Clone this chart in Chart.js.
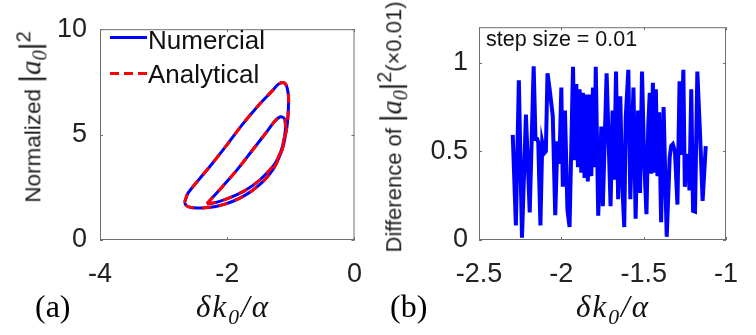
<!DOCTYPE html>
<html>
<head>
<meta charset="utf-8">
<script src="https://cdn.jsdelivr.net/npm/chart.js@4.4.1/dist/chart.umd.min.js"></script>
<style>
  html, body { margin: 0; padding: 0; background: #fff; }
  #wrap { position: relative; width: 756px; height: 335px; overflow: hidden;
          font-family: "Liberation Sans", Arial, sans-serif; color: #222; }
  canvas { position: absolute; top: 0; }
  #cA { left: 0; }
  #cB { left: 380px; }
  .ytitle { position: absolute; white-space: nowrap; line-height: 1; color: #222;
            transform: translate(-50%, -50%) rotate(-90deg); }
  .xtitle { position: absolute; white-space: nowrap; line-height: 1; transform: translateX(-50%);
            font-family: "Liberation Serif", "Times New Roman", serif; font-style: italic;
            font-size: 31px; letter-spacing: 2px; color: #111; }
  .m { font-family: "Liberation Serif", "Times New Roman", serif; font-style: italic; }
  .big { font-size: 1.3em; }
  .sub { font-size: .7em; position: relative; top: .3em; }
  .sup { font-size: .9em; position: relative; top: -.5em; }
  .panel { position: absolute; line-height: 1; font-family: "Liberation Serif", "Times New Roman", serif; font-size: 32px; color: #000; }
  .txt { position: absolute; line-height: 1; white-space: nowrap; color: #111; }
  .swatch { position: absolute; height: 3px; }
</style>
</head>
<body>
<div id="wrap">
  <canvas id="cA" width="380" height="335"></canvas>
  <canvas id="cB" width="376" height="335"></canvas>

  <!-- panel (a) legend -->
  <div class="swatch" style="left:110px; top:36px; width:37px; background:#0000ff;"></div>
  <div class="txt" style="left:148px; top:27px; font-size:26px;">Numercial</div>
  <div class="swatch" style="left:110px; top:72px; width:37px; background:repeating-linear-gradient(to right,#ff0000 0 9px,transparent 9px 14px);"></div>
  <div class="txt" style="left:148px; top:61px; font-size:26px;">Analytical</div>

  <!-- panel (b) annotation -->
  <div class="txt" style="left:486px; top:29px; font-size:21.5px;">step size = 0.01</div>

  <!-- axis titles -->
  <div class="ytitle" style="left:31px; top:117px; font-size:22.5px;">Normalized <span class="big">|<span class="m">a</span><span class="sub m">0</span>|</span><span class="sup">2</span></div>
  <div class="ytitle" style="left:392px; top:127px; font-size:22px;">Difference of <span class="big">|<span class="m">a</span><span class="sub m">0</span>|</span><span class="sup">2</span>(×0.01)</div>
  <div class="xtitle" style="left:233px; top:291px;">δk<span class="sub">0</span>/α</div>
  <div class="xtitle" style="left:613px; top:291px;">δk<span class="sub">0</span>/α</div>

  <div class="panel" style="left:35px; top:290px;">(a)</div>
  <div class="panel" style="left:390px; top:290px;">(b)</div>
</div>

<script>
// ===== Data =====
// panel (a): outer and inner loops (numerical and analytical curves coincide)
const outerLoopX = [-2.672, -2.621, -2.45, -2.27, -2.02, -1.77, -1.52, -1.30, -1.20, -1.12, -1.07, -1.04,
                    -1.035, -1.045, -1.06, -1.09, -1.12, -1.18, -1.25, -1.34, -1.44, -1.60, -1.75, -1.90,
                    -2.05, -2.20, -2.35, -2.48, -2.57, -2.64, -2.672];
const outerLoopY = [1.765, 2.2, 2.85, 3.5, 4.45, 5.45, 6.35, 7.05, 7.38, 7.47, 7.32, 6.9,
                    6.6, 5.9, 5.4, 4.9, 4.45, 3.95, 3.5, 3.1, 2.77, 2.36, 2.07, 1.85,
                    1.69, 1.58, 1.53, 1.52, 1.54, 1.62, 1.765];
const innerLoopX = [-2.32, -2.22, -2.07, -1.84, -1.62, -1.40, -1.25, -1.16, -1.10, -1.085, -1.095,
                    -1.135, -1.20, -1.28, -1.48, -1.70, -1.90, -2.12, -2.25, -2.32];
const innerLoopY = [1.72, 2.05, 2.55, 3.35, 4.2, 5.05, 5.65, 5.85, 5.75, 5.4, 5.0,
                    4.4, 3.9, 3.5, 2.87, 2.38, 2.08, 1.83, 1.74, 1.72];

// panel (b): difference, step size 0.01
const diffX = [-2.295, -2.276, -2.258, -2.239, -2.215, -2.192, -2.168, -2.157, -2.147, -2.140, -2.127,
               -2.116, -2.103, -2.094, -2.084, -2.071, -2.052, -2.037, -2.024, -2.012, -2.000, -1.991,
               -1.978, -1.963, -1.950, -1.929, -1.919, -1.909, -1.899, -1.889, -1.879, -1.869, -1.859,
               -1.849, -1.839, -1.829, -1.818, -1.808, -1.798, -1.791, -1.776, -1.757, -1.748, -1.725,
               -1.701, -1.689, -1.679, -1.668, -1.655, -1.642, -1.631, -1.618, -1.609, -1.593, -1.581,
               -1.562, -1.549, -1.534, -1.522, -1.510, -1.497, -1.483, -1.472, -1.463, -1.455, -1.444,
               -1.434, -1.426, -1.416, -1.406, -1.394, -1.379, -1.360, -1.342, -1.333, -1.323, -1.310,
               -1.295, -1.282, -1.273, -1.259, -1.250, -1.241, -1.230, -1.222, -1.211, -1.200, -1.188,
               -1.174, -1.155, -1.142, -1.123];
const diffY = [0.593, 0.082, 0.90, 0.013, 0.707, 0.155, 0.98, 0.57, 0.57, 0.55, 0.082,
               0.55, 0.49, 0.50, 0.94, 0.85, 0.70, 0.14, 0.557, 0.43, 0.86, 0.30,
               0.73, 0.17, 0.073, 0.977, 0.45, 0.88, 0.41, 0.85, 0.38, 0.83, 0.35,
               0.82, 0.33, 0.82, 0.36, 0.86, 0.41, 0.977, 0.137, 0.64, 0.19, 0.94,
               0.19, 0.73, 0.34, 0.95, 0.23, 0.81, 0.34, 0.073, 0.69, 0.96, 0.23,
               0.86, 0.12, 0.73, 0.265, 0.95, 0.45, 0.146, 0.65, 0.83, 0.374, 0.886,
               0.38, 0.85, 0.36, 0.72, 0.10, 0.75, 0.018, 0.466, 0.53, 0.54, 0.50,
               0.20, 0.895, 0.48, 0.96, 0.30, 0.475, 0.475, 0.28, 0.85, 0.164, 0.16,
               0.95, 0.54, 0.22, 0.53];

// axes
const xTicksA = [-4, -2, 0];
const yTicksA = [0, 5, 10];
const xTicksB = [-2.5, -2, -1.5, -1];
const yTicksB = [0, 0.5, 1];

// ===== Helpers =====
const FONT = '"Liberation Sans", Arial, sans-serif';
const TICK = 3;
const pts = (xs, ys) => xs.map((x, i) => ({ x, y: ys[i] }));
const setTicks = arr => s => { s.ticks = arr.map(v => ({ value: v })); };

// MATLAB-like box with inward ticks on all four sides
const boxAndTicks = {
  id: 'boxAndTicks',
  afterDatasetsDraw(chart) {
    const { ctx, chartArea: a, scales } = chart;
    ctx.save();
    ctx.strokeStyle = '#707070';
    ctx.lineWidth = 1;
    ctx.strokeRect(a.left + 0.5, a.top + 0.5, a.right - a.left - 1, a.bottom - a.top - 1);
    ctx.beginPath();
    scales.x.ticks.forEach(t => {
      const p = Math.round(scales.x.getPixelForValue(t.value)) + 0.5;
      ctx.moveTo(p, a.bottom); ctx.lineTo(p, a.bottom - TICK);
      ctx.moveTo(p, a.top);    ctx.lineTo(p, a.top + TICK);
    });
    scales.y.ticks.forEach(t => {
      const p = Math.round(scales.y.getPixelForValue(t.value)) + 0.5;
      ctx.moveTo(a.left, p);  ctx.lineTo(a.left + TICK, p);
      ctx.moveTo(a.right, p); ctx.lineTo(a.right - TICK, p);
    });
    ctx.stroke();
    ctx.restore();
  }
};

function axis(min, max, ticks, fit, padding) {
  return {
    type: 'linear', min, max,
    afterBuildTicks: setTicks(ticks),
    afterFit: fit,
    grid: { display: false, drawTicks: false },
    border: { display: false },
    ticks: {
      font: { family: FONT, size: 27 }, color: '#222', padding, maxRotation: 0, autoSkip: false,
      callback: v => String(v)
    }
  };
}

function baseOptions(pad, scales) {
  return {
    responsive: false,
    animation: false,
    events: [],
    layout: { padding: pad },
    plugins: { legend: { display: false }, tooltip: { enabled: false } },
    scales
  };
}

// ===== Panel (a) =====
const loopLine = (data, color, dash, order) => ({
  data, showLine: true, borderColor: color, borderWidth: 3, borderDash: dash,
  pointRadius: 0, tension: 0.3, fill: false, order
});

new Chart(document.getElementById('cA'), {
  type: 'scatter',
  data: {
    datasets: [
      loopLine(pts(outerLoopX, outerLoopY), '#ff0000', [9, 8], 0),
      loopLine(pts(innerLoopX, innerLoopY), '#ff0000', [9, 8], 0),
      loopLine(pts(outerLoopX, outerLoopY), '#0000ff', [], 1),
      loopLine(pts(innerLoopX, innerLoopY), '#0000ff', [], 1)
    ]
  },
  options: baseOptions({ top: 23, right: 14, left: 0, bottom: 0 }, {
    x: axis(-4, 0, xTicksA, s => { s.height = 95; }, 18),
    y: axis(0, 10, yTicksA, s => { s.width = 100; }, 13)
  }),
  plugins: [boxAndTicks]
});

// ===== Panel (b) =====
new Chart(document.getElementById('cB'), {
  type: 'scatter',
  data: {
    datasets: [{
      data: pts(diffX, diffY), showLine: true, borderColor: '#0000ff', borderWidth: 4,
      pointRadius: 0, tension: 0, fill: false
    }]
  },
  options: baseOptions({ top: 23, right: 9, left: 0, bottom: 0 }, {
    x: axis(-2.5, -1, xTicksB, s => { s.height = 95; }, 18),
    y: axis(0, 1.2, yTicksB, s => { s.width = 99; }, 11)
  }),
  plugins: [boxAndTicks]
});
</script>
</body>
</html>
